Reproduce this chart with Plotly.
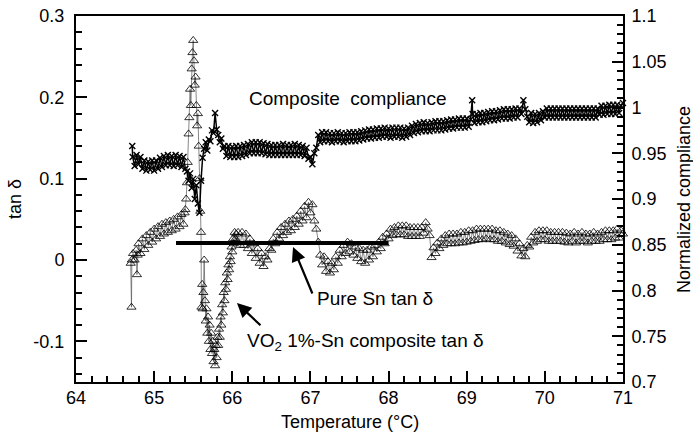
import plotly.graph_objects as go

# ---------------- data ----------------
vo2_temp = [
    64.70, 64.71, 64.715, 64.73, 64.75, 64.77, 64.78, 64.79, 64.80, 64.825, 64.85, 64.875,
    64.90, 64.925, 64.95, 64.975, 65.00, 65.025, 65.05, 65.075, 65.10, 65.125, 65.15, 65.175,
    65.20, 65.225, 65.25, 65.275, 65.30, 65.325, 65.35, 65.375, 65.39, 65.40, 65.41, 65.42,
    65.43, 65.44, 65.45, 65.46, 65.47, 65.48, 65.49, 65.50, 65.51, 65.52, 65.53, 65.54,
    65.55, 65.56, 65.57, 65.58, 65.59, 65.60, 65.605, 65.615, 65.62, 65.63, 65.64, 65.65,
    65.66, 65.67, 65.68, 65.69, 65.70, 65.71, 65.72, 65.73, 65.74, 65.75, 65.76, 65.77,
    65.78, 65.79, 65.80, 65.81, 65.82, 65.83, 65.84, 65.85, 65.86, 65.87, 65.88, 65.89,
    65.90, 65.91, 65.92, 65.93, 65.94, 65.95, 65.96, 65.97, 65.98, 65.99, 66.00, 66.01,
    66.02, 66.03, 66.04, 66.05, 66.06, 66.075, 66.10, 66.125, 66.15, 66.175, 66.20, 66.225,
    66.25, 66.275, 66.30, 66.325, 66.35, 66.375, 66.40, 66.425, 66.45, 66.475, 66.50, 66.525,
    66.55, 66.575, 66.60, 66.625, 66.65, 66.675, 66.70, 66.725, 66.75, 66.775, 66.80, 66.825,
    66.85, 66.875, 66.90, 66.925, 66.95, 66.975, 67.00, 67.025, 67.05, 67.075, 67.10, 67.125,
    67.15, 67.175, 67.20, 67.225, 67.25, 67.275, 67.30, 67.325, 67.35, 67.375, 67.40, 67.425,
    67.45, 67.475, 67.50, 67.525, 67.55, 67.575, 67.60, 67.625, 67.65, 67.675, 67.70, 67.725,
    67.75, 67.775, 67.80, 67.825, 67.85, 67.875, 67.90, 67.925, 67.95, 67.975, 68.00, 68.025,
    68.05, 68.075, 68.10, 68.125, 68.15, 68.175, 68.20, 68.225, 68.25, 68.275, 68.30, 68.325,
    68.35, 68.375, 68.40, 68.425, 68.45, 68.475, 68.50, 68.525, 68.55, 68.575, 68.60, 68.625,
    68.65, 68.675, 68.70, 68.725, 68.75, 68.775, 68.80, 68.825, 68.85, 68.875, 68.90, 68.925,
    68.95, 68.975, 69.00, 69.025, 69.05, 69.075, 69.10, 69.125, 69.15, 69.175, 69.20, 69.225,
    69.25, 69.275, 69.30, 69.325, 69.35, 69.375, 69.40, 69.425, 69.45, 69.475, 69.50, 69.525,
    69.55, 69.575, 69.60, 69.625, 69.65, 69.675, 69.70, 69.725, 69.75, 69.775, 69.80, 69.825,
    69.85, 69.875, 69.90, 69.925, 69.95, 69.975, 70.00, 70.025, 70.05, 70.075, 70.10, 70.125,
    70.15, 70.175, 70.20, 70.225, 70.25, 70.275, 70.30, 70.325, 70.35, 70.375, 70.40, 70.425,
    70.45, 70.475, 70.50, 70.525, 70.55, 70.575, 70.60, 70.625, 70.65, 70.675, 70.70, 70.725,
    70.75, 70.775, 70.80, 70.825, 70.85, 70.875, 70.90, 70.925, 70.95, 70.975, 71.00,
]
vo2_tan = [
    -0.004, -0.058, 0.000, 0.008, 0.000, 0.012, -0.018, 0.006, 0.020, 0.008, 0.026, 0.013,
    0.030, 0.018, 0.034, 0.022, 0.038, 0.026, 0.041, 0.029, 0.044, 0.032, 0.046, 0.034,
    0.048, 0.036, 0.050, 0.038, 0.053, 0.041, 0.056, 0.044, 0.058, 0.062, 0.075, 0.095,
    0.120, 0.155, 0.175, 0.210, 0.190, 0.235, 0.255, 0.270, 0.245, 0.215, 0.225, 0.190,
    0.165, 0.180, 0.140, 0.100, 0.060, 0.034, -0.058, -0.030, -0.060, -0.040, 0.000, -0.050,
    -0.075, -0.060, -0.090, -0.070, -0.100, -0.080, -0.110, -0.090, -0.115, -0.100, -0.125, -0.110,
    -0.130, -0.105, -0.120, -0.095, -0.105, -0.085, -0.095, -0.070, -0.080, -0.055, -0.065, -0.040,
    -0.050, -0.028, -0.036, -0.016, -0.024, -0.006, -0.012, 0.004, -0.002, 0.016, 0.010, 0.026,
    0.020, 0.034, 0.026, 0.032, 0.022, 0.034, 0.018, 0.034, 0.018, 0.032, 0.014, 0.026,
    0.008, 0.020, 0.002, 0.014, -0.004, 0.008, -0.008, 0.004, 0.000, 0.014, 0.012, 0.026,
    0.020, 0.034, 0.026, 0.040, 0.030, 0.044, 0.034, 0.048, 0.036, 0.050, 0.040, 0.054,
    0.044, 0.060, 0.048, 0.066, 0.052, 0.071, 0.058, 0.068, 0.048, 0.038, 0.022, 0.006,
    -0.006, 0.004, -0.014, -0.002, -0.016, -0.004, -0.012, 0.004, -0.004, 0.012, 0.004, 0.018,
    0.008, 0.022, 0.010, 0.020, 0.006, 0.016, 0.002, 0.014, -0.002, 0.012, -0.004, 0.012,
    0.000, 0.016, 0.004, 0.018, 0.010, 0.022, 0.014, 0.028, 0.020, 0.032, 0.026, 0.038,
    0.030, 0.040, 0.031, 0.042, 0.031, 0.042, 0.031, 0.042, 0.029, 0.040, 0.029, 0.040,
    0.029, 0.040, 0.029, 0.040, 0.033, 0.046, 0.038, 0.030, 0.003, 0.015, 0.008, 0.021,
    0.014, 0.026, 0.018, 0.030, 0.020, 0.032, 0.020, 0.032, 0.020, 0.032, 0.021, 0.034,
    0.021, 0.034, 0.022, 0.036, 0.023, 0.036, 0.024, 0.038, 0.025, 0.038, 0.025, 0.038,
    0.026, 0.038, 0.025, 0.038, 0.025, 0.036, 0.023, 0.036, 0.023, 0.034, 0.021, 0.032,
    0.019, 0.030, 0.017, 0.026, 0.011, 0.020, 0.005, 0.014, 0.004, 0.018, 0.016, 0.028,
    0.021, 0.034, 0.023, 0.036, 0.025, 0.036, 0.025, 0.036, 0.023, 0.034, 0.023, 0.034,
    0.023, 0.034, 0.023, 0.034, 0.022, 0.033, 0.021, 0.032, 0.023, 0.034, 0.021, 0.032,
    0.023, 0.034, 0.023, 0.032, 0.021, 0.032, 0.023, 0.034, 0.023, 0.032, 0.023, 0.034,
    0.025, 0.036, 0.025, 0.036, 0.025, 0.036, 0.027, 0.038, 0.027, 0.036, 0.032,
]

comp_temp = [
    64.72, 64.725, 64.75, 64.775, 64.80, 64.825, 64.85, 64.875, 64.90, 64.925, 64.95, 64.975,
    65.00, 65.025, 65.05, 65.075, 65.10, 65.125, 65.15, 65.175, 65.20, 65.225, 65.25, 65.275,
    65.30, 65.325, 65.35, 65.375, 65.40, 65.42, 65.44, 65.46, 65.48, 65.50, 65.52, 65.54,
    65.56, 65.58, 65.60, 65.62, 65.64, 65.66, 65.68, 65.70, 65.72, 65.74, 65.76, 65.78,
    65.80, 65.82, 65.84, 65.86, 65.88, 65.90, 65.925, 65.95, 65.975, 66.00, 66.025, 66.05,
    66.075, 66.10, 66.125, 66.15, 66.175, 66.20, 66.225, 66.25, 66.275, 66.30, 66.325, 66.35,
    66.375, 66.40, 66.425, 66.45, 66.475, 66.50, 66.525, 66.55, 66.575, 66.60, 66.625, 66.65,
    66.675, 66.70, 66.725, 66.75, 66.775, 66.80, 66.825, 66.85, 66.875, 66.90, 66.925, 66.95,
    66.975, 67.00, 67.025, 67.05, 67.075, 67.10, 67.125, 67.15, 67.175, 67.20, 67.225, 67.25,
    67.275, 67.30, 67.325, 67.35, 67.375, 67.40, 67.425, 67.45, 67.475, 67.50, 67.525, 67.55,
    67.575, 67.60, 67.625, 67.65, 67.675, 67.70, 67.725, 67.75, 67.775, 67.80, 67.825, 67.85,
    67.875, 67.90, 67.925, 67.95, 67.975, 68.00, 68.025, 68.05, 68.075, 68.10, 68.125, 68.15,
    68.175, 68.20, 68.225, 68.25, 68.275, 68.30, 68.325, 68.35, 68.375, 68.40, 68.425, 68.45,
    68.475, 68.50, 68.525, 68.55, 68.575, 68.60, 68.625, 68.65, 68.675, 68.70, 68.725, 68.75,
    68.775, 68.80, 68.825, 68.85, 68.875, 68.90, 68.925, 68.95, 68.975, 69.00, 69.025, 69.05,
    69.07, 69.075, 69.10, 69.125, 69.15, 69.175, 69.20, 69.225, 69.25, 69.275, 69.30, 69.325,
    69.35, 69.375, 69.40, 69.425, 69.45, 69.475, 69.50, 69.525, 69.55, 69.575, 69.60, 69.625,
    69.65, 69.675, 69.70, 69.725, 69.75, 69.775, 69.80, 69.825, 69.85, 69.875, 69.90, 69.925,
    69.95, 69.975, 70.00, 70.025, 70.05, 70.075, 70.10, 70.125, 70.15, 70.175, 70.20, 70.225,
    70.25, 70.275, 70.30, 70.325, 70.35, 70.375, 70.40, 70.425, 70.45, 70.475, 70.50, 70.525,
    70.55, 70.575, 70.60, 70.625, 70.65, 70.675, 70.70, 70.725, 70.75, 70.775, 70.80, 70.825,
    70.85, 70.875, 70.90, 70.925, 70.95, 70.975, 71.00,
]
comp_val = [
    0.958, 0.946, 0.936, 0.948, 0.938, 0.946, 0.933, 0.942, 0.931, 0.941, 0.932, 0.942,
    0.931, 0.942, 0.933, 0.945, 0.935, 0.947, 0.937, 0.948, 0.937, 0.947, 0.936, 0.948,
    0.937, 0.947, 0.935, 0.946, 0.933, 0.930, 0.920, 0.928, 0.912, 0.922, 0.900, 0.915,
    0.895, 0.885, 0.920, 0.945, 0.955, 0.962, 0.953, 0.965, 0.963, 0.975, 0.972, 0.994,
    0.976, 0.970, 0.962, 0.966, 0.955, 0.958, 0.947, 0.958, 0.946, 0.957, 0.946, 0.958,
    0.946, 0.958, 0.947, 0.959, 0.948, 0.960, 0.950, 0.962, 0.950, 0.962, 0.950, 0.962,
    0.950, 0.961, 0.949, 0.960, 0.948, 0.959, 0.948, 0.959, 0.948, 0.959, 0.948, 0.960,
    0.948, 0.959, 0.948, 0.959, 0.948, 0.960, 0.948, 0.959, 0.948, 0.958, 0.947, 0.956,
    0.944, 0.946, 0.938, 0.950, 0.956, 0.970, 0.962, 0.973, 0.963, 0.973, 0.963, 0.972,
    0.962, 0.972, 0.963, 0.973, 0.963, 0.972, 0.962, 0.972, 0.963, 0.973, 0.963, 0.973,
    0.963, 0.973, 0.964, 0.974, 0.965, 0.975, 0.966, 0.976, 0.966, 0.976, 0.967, 0.977,
    0.967, 0.977, 0.968, 0.978, 0.968, 0.977, 0.967, 0.978, 0.968, 0.978, 0.968, 0.978,
    0.967, 0.977, 0.968, 0.978, 0.970, 0.980, 0.972, 0.982, 0.973, 0.983, 0.974, 0.984,
    0.974, 0.983, 0.974, 0.984, 0.975, 0.985, 0.975, 0.985, 0.975, 0.985, 0.976, 0.986,
    0.977, 0.987, 0.977, 0.987, 0.978, 0.988, 0.978, 0.988, 0.978, 0.988, 0.979, 0.987,
    1.008, 0.993, 0.983, 0.993, 0.984, 0.994, 0.984, 0.994, 0.985, 0.995, 0.986, 0.996,
    0.986, 0.996, 0.987, 0.997, 0.988, 0.998, 0.988, 0.998, 0.988, 0.998, 0.989, 0.999,
    0.989, 0.999, 0.993, 1.008, 0.998, 0.990, 0.984, 0.994, 0.983, 0.993, 0.984, 0.994,
    0.986, 0.996, 0.989, 0.999, 0.989, 0.999, 0.989, 0.999, 0.989, 0.999, 0.989, 0.999,
    0.989, 0.999, 0.989, 0.999, 0.989, 0.999, 0.989, 0.999, 0.989, 0.999, 0.989, 0.999,
    0.989, 0.999, 0.989, 0.999, 0.989, 0.999, 0.992, 1.002, 0.992, 1.002, 0.993, 1.003,
    0.993, 1.003, 0.993, 1.003, 0.994, 1.002, 1.005,
]

sn_temp = [65.28, 65.50, 65.75, 66.00, 66.25, 66.50, 66.75, 67.00, 67.25, 67.50, 67.75, 68.00]
sn_tan = [0.021, 0.021, 0.021, 0.021, 0.021, 0.021, 0.021, 0.021, 0.021, 0.021, 0.021, 0.021]

x_ticks = [64, 65, 66, 67, 68, 69, 70, 71]
left_ticks = [-0.1, 0, 0.1, 0.2, 0.3]
left_labels = ["-0.1", "0", "0.1", "0.2", "0.3"]
right_ticks = [0.7, 0.75, 0.8, 0.85, 0.9, 0.95, 1.0, 1.05, 1.1]
right_labels = ["0.7", "0.75", "0.8", "0.85", "0.9", "0.95", "1", "1.05", "1.1"]

FONT = "Liberation Sans, Arial, Helvetica, sans-serif"

fig = go.Figure()

fig.add_trace(go.Scatter(
    x=comp_temp, y=comp_val, yaxis="y2", mode="lines+markers",
    line=dict(color="black", width=1.5),
    marker=dict(symbol="x-thin", size=6, color="black", line=dict(color="black", width=1.4)),
    name="Composite compliance", cliponaxis=False,
))
fig.add_trace(go.Scatter(
    x=vo2_temp, y=vo2_tan, mode="lines+markers",
    line=dict(color="#555555", width=0.7),
    marker=dict(symbol="triangle-up-open", size=8, color="black", line=dict(color="black", width=0.8)),
    name="VO2 1%-Sn composite tan δ", cliponaxis=False,
))
fig.add_trace(go.Scatter(
    x=sn_temp, y=sn_tan, mode="lines",
    line=dict(color="black", width=4),
    name="Pure Sn tan δ",
))

axis_common = dict(
    showline=True, linecolor="black", linewidth=2,
    ticks="inside", ticklen=11, tickwidth=1.5, tickcolor="black",
    showgrid=False, zeroline=False, automargin=False,
    tickfont=dict(family=FONT, size=18, color="black"),
)

fig.update_layout(
    width=693, height=434,
    margin=dict(l=76, r=70, t=16, b=52),
    paper_bgcolor="white", plot_bgcolor="white",
    showlegend=False,
    font=dict(family=FONT, color="black"),
    xaxis=dict(
        range=[64, 71], tickvals=x_ticks, ticktext=[str(v) for v in x_ticks],
        mirror=True,
        minor=dict(dtick=0.2, tick0=64, ticks="inside", ticklen=6, tickwidth=1.5, tickcolor="black"),
        ticklabelstandoff=-2,
        **axis_common,
    ),
    yaxis=dict(
        range=[-0.15, 0.3], tickvals=left_ticks, ticktext=left_labels,
        minor=dict(dtick=0.02, tick0=0, ticks="inside", ticklen=6, tickwidth=1.5, tickcolor="black"),
        ticklabelstandoff=6,
        **axis_common,
    ),
    yaxis2=dict(
        range=[0.7, 1.1], tickvals=right_ticks, ticktext=right_labels,
        overlaying="y", side="right",
        minor=dict(dtick=0.01, tick0=0.7, ticks="inside", ticklen=6, tickwidth=1.5, tickcolor="black"),
        ticklabelstandoff=3,
        **axis_common,
    ),
)

ann_font = dict(family=FONT, size=19, color="black")
annotations = [
    dict(text="tan δ", xref="paper", yref="paper", x=-0.1115, y=0.5, textangle=-90,
         showarrow=False, font=dict(family=FONT, size=18, color="black"), xanchor="center", yanchor="middle"),
    dict(text="Normalized compliance", xref="paper", yref="paper", x=1.1115, y=0.5, textangle=-90,
         showarrow=False, font=dict(family=FONT, size=18, color="black"), xanchor="center", yanchor="middle"),
    dict(text="Temperature (°C)", xref="paper", yref="paper", x=0.5, y=-0.109,
         showarrow=False, font=dict(family=FONT, size=18, color="black"), xanchor="center", yanchor="middle"),
    dict(text="Composite&#160;&#160;compliance", x=66.19, y=0.199, xref="x", yref="y",
         showarrow=False, font=ann_font, xanchor="left", yanchor="middle"),
    dict(text="Pure Sn tan δ", x=67.06, y=-0.047, xref="x", yref="y",
         showarrow=False, font=ann_font, xanchor="left", yanchor="middle"),
    dict(text="VO<sub>2</sub> 1%-Sn composite tan δ", x=66.16, y=-0.101, xref="x", yref="y",
         showarrow=False, font=ann_font, xanchor="left", yanchor="middle"),
    # arrows
    dict(text="", x=66.777, y=0.016, ax=67.033, ay=-0.043, xref="x", yref="y", axref="x", ayref="y",
         showarrow=True, arrowhead=2, arrowsize=1.3, arrowwidth=2.2, arrowcolor="black", standoff=0),
    dict(text="", x=66.06, y=-0.053, ax=66.38, ay=-0.082, xref="x", yref="y", axref="x", ayref="y",
         showarrow=True, arrowhead=2, arrowsize=1.3, arrowwidth=2.2, arrowcolor="black", standoff=0),
]
fig.update_layout(annotations=annotations)

fig.write_html(
    "out.html",
    config={"displayModeBar": False},
    post_script="document.body.style.margin='0';document.body.style.overflow='hidden';",
)
